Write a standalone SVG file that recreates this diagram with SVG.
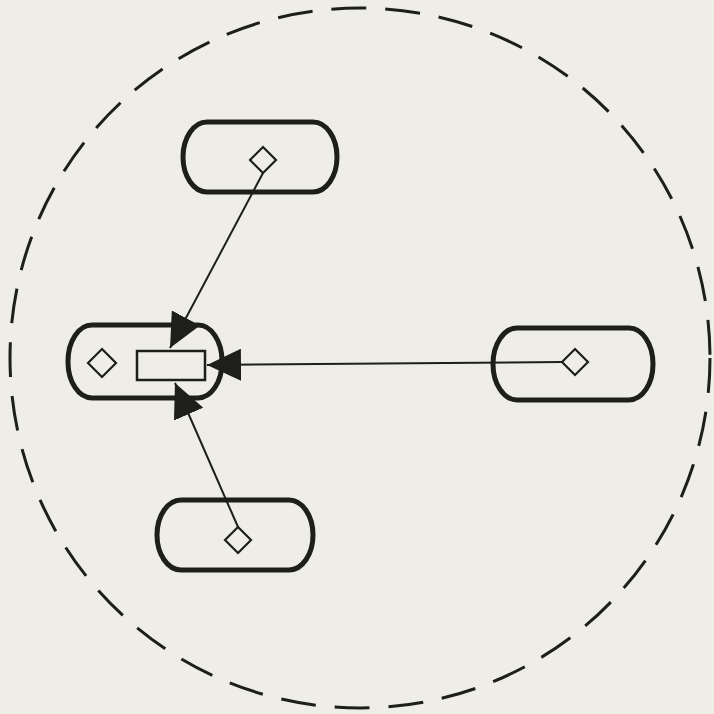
<svg xmlns="http://www.w3.org/2000/svg" width="714" height="714" viewBox="0 0 714 714">
  <style>
    .stadium { fill: none; stroke: #1e1e1a; stroke-width: 5; }
    .diamond { fill: none; stroke: #1e1e1a; stroke-width: 2.2; }
    .box { fill: none; stroke: #1e1e1a; stroke-width: 2.5; }
    .conn { fill: none; stroke: #1e1e1a; stroke-width: 2; }
    .boundary { fill: none; stroke: #1e1e1a; stroke-width: 3; stroke-dasharray: 35 19; }
  </style>
  <defs>
    <marker id="arrow" markerUnits="userSpaceOnUse" markerWidth="36" markerHeight="32" refX="34" refY="16" orient="auto">
      <path d="M0,0 L34,16 L0,32 Z" fill="#1e1e1a"/>
    </marker>
  </defs>
  <rect width="714" height="714" fill="#efeee6"/>
  <circle class="boundary" cx="360" cy="358" r="350"/>

  <g id="node-top">
    <rect class="stadium" x="183" y="122" width="154" height="70" rx="24" ry="35"/>
    <path class="diamond" d="M263,147 L276,160 L263,173 L250,160 Z"/>
  </g>
  <g id="node-left">
    <rect class="stadium" x="68" y="325" width="154" height="73" rx="24" ry="36"/>
    <path class="diamond" d="M102,349 L116,363 L102,377 L88,363 Z"/>
    <rect id="node-left-box" class="box" x="137" y="351" width="68" height="29"/>
  </g>
  <g id="node-right">
    <rect class="stadium" x="493" y="328" width="160" height="72" rx="24" ry="36"/>
    <path class="diamond" d="M575,349 L588,362 L575,375 L562,362 Z"/>
  </g>
  <g id="node-bottom">
    <rect class="stadium" x="157" y="500" width="156" height="70" rx="24" ry="35"/>
    <path class="diamond" d="M238,527 L251,540 L238,553 L225,540 Z"/>
  </g>

  <g id="connectors">
    <line class="conn" x1="263" y1="173" x2="170" y2="348" marker-end="url(#arrow)"/>
    <line class="conn" x1="562" y1="362" x2="207" y2="365" marker-end="url(#arrow)"/>
    <line class="conn" x1="238" y1="527" x2="175" y2="383" marker-end="url(#arrow)"/>
  </g>
</svg>
